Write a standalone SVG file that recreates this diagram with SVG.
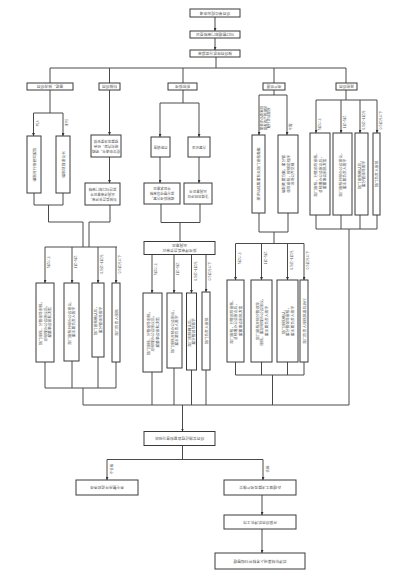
<svg xmlns="http://www.w3.org/2000/svg" width="408" height="579" viewBox="0 0 408 579">
<defs>
<style>
.b{fill:#fff;stroke:#3a3a3a;stroke-width:1}
.l{fill:none;stroke:#4a4a4a;stroke-width:1}
.a{fill:none;stroke:#4a4a4a;stroke-width:1;marker-end:url(#ah)}
.t{font-family:"Noto Sans CJK SC","Noto Sans",sans-serif;font-size:3.8px;fill:#555;text-anchor:middle;dominant-baseline:central}
.s{font-size:3.5px}
</style>
<marker id="ah" viewBox="0 0 6 6" refX="6" refY="3" markerWidth="3" markerHeight="3" orient="auto" markerUnits="userSpaceOnUse"><path d="M0,0 L6,3 L0,6 z" fill="#333"/></marker>
</defs>
<rect width="408" height="579" fill="#fff"/>
<g id="connectors">
<path class="a" d="M215,17 V31"/>
<path class="a" d="M215,38 V50"/>
<path class="l" d="M216,57 V68 M50,68 H346 M50,68 V83 M109.5,68 V83 M183,68 V83 M274,68 V83 M346,68 V83"/>
<path class="l" d="M50,90 V113 M33.5,113 H63"/>
<path class="a" d="M33.5,113 V136"/><path class="a" d="M63,113 V136"/>
<path class="l" d="M34,193 V205 M63,193 V205 M34,205 H63 M48.5,205 V222 H83 V247"/>
<path class="a" d="M109.5,90 V135"/>
<path class="a" d="M109.5,157 V183"/>
<path class="l" d="M110,205 V222 H89 V247"/>
<path class="l" d="M45,247 H117"/>
<path class="a" d="M45,247 V283"/><path class="a" d="M72,247 V283"/><path class="a" d="M98,247 V283"/><path class="a" d="M116,247 V283"/>
<path class="l" d="M45,362 V388 M72,361 V388 M98,357 V388 M116,362 V388 M45,388 H116 M83,388 V405 H349"/>
<path class="l" d="M183,90 V103 M160,103 H199"/>
<path class="a" d="M160,103 V137"/><path class="a" d="M199,103 V137"/>
<path class="a" d="M160,157 V183"/><path class="a" d="M199,157 V183"/>
<path class="l" d="M161,204 V222.5 M200,204 V222.5 M161,222.5 H200 M180,222.5 V241.5"/>
<path class="a" d="M152,254.5 V293"/><path class="a" d="M174,254.5 V293"/><path class="a" d="M191.5,254.5 V293"/><path class="a" d="M206,254.5 V292"/>
<path class="l" d="M152,372 V405 M174,368 V405 M191.5,370 V405 M206,370 V405"/>
<path class="l" d="M274,90 V95 M259,95 H287"/>
<path class="a" d="M259,95 V135"/><path class="a" d="M287,95 V135"/>
<path class="l" d="M259,213 V232 M288,213 V232 M259,232 H288 M274,232 V243.5 M235.5,243.5 H304"/>
<path class="a" d="M235.5,243.5 V280"/><path class="a" d="M261.5,243.5 V280"/><path class="a" d="M287.5,243.5 V280"/><path class="a" d="M304,243.5 V280"/>
<path class="l" d="M235.5,362 V375 M261.5,362 V375 M287.5,362 V375 M304,362 V375 M235.5,375 H304 M272.5,375 V405"/>
<path class="l" d="M346,90 V100 M316,100 H377"/>
<path class="a" d="M316,100 V133"/><path class="a" d="M341,100 V133"/><path class="a" d="M360,100 V133"/><path class="a" d="M377,100 V133"/>
<path class="l" d="M316,215 V229 M341,215 V229 M360,215 V229 M377,215 V229 M316,229 H377 M349,229 V405"/>
<path class="a" d="M182.5,405 V431.5"/>
<path class="l" d="M182.5,445.5 V459.5 M107,459.5 H263"/>
<path class="a" d="M107,459.5 V480"/><path class="a" d="M263,459.5 V480"/>
<path class="a" d="M262,495 V515"/>
<path class="a" d="M262,529 V553"/>
</g>

<g id="n1"><rect class="b" x="190" y="9" width="50" height="8"/><text class="t" x="215" y="13" transform="rotate(180 215 13)">项目单位提出申请</text></g>
<g id="n2"><rect class="b" x="190" y="31" width="50" height="7"/><text class="t" x="215" y="34.5" transform="rotate(180 215 34.5)">归口管理部门审核登记</text></g>
<g id="n3"><rect class="b" x="190" y="50" width="50" height="7"/><text class="t" x="215" y="53.5" transform="rotate(180 215 53.5)">按项目性质分类报审</text></g>

<g id="nA"><rect class="b" x="27" y="83" width="46" height="7"/><text class="t" x="50" y="86.5" transform="rotate(180 50 86.5)">基建、技改项目</text></g>
<g id="nB"><rect class="b" x="99" y="83" width="21" height="7"/><text class="t" x="109.5" y="86.5" transform="rotate(180 109.5 86.5)">科技项目</text></g>
<g id="nC"><rect class="b" x="168" y="83" width="29" height="7"/><text class="t" x="182.5" y="86.5" transform="rotate(180 182.5 86.5)">股权投资</text></g>
<g id="nD"><rect class="b" x="263" y="83" width="22" height="7"/><text class="t" x="274" y="86.5" transform="rotate(180 274 86.5)">资产处置</text></g>
<g id="nE"><rect class="b" x="336" y="83" width="21" height="7"/><text class="t" x="346.5" y="86.5" transform="rotate(180 346.5 86.5)">其他项目</text></g>

<g id="labelsA">
<text class="t s" x="37" y="123" transform="rotate(-90 37 123)">列入</text>
<text class="t s" x="66" y="123" transform="rotate(-90 66 123)">未列</text>
</g>
<g id="nA1"><rect class="b" x="27" y="136" width="14" height="57"/><text class="t" x="34" y="164.5" transform="rotate(-90 34 164.5)">编制可行性研究报告</text></g>
<g id="nA2"><rect class="b" x="56" y="136" width="14" height="57"/><text class="t" x="63" y="164.5" transform="rotate(-90 63 164.5)">编制项目建议书</text></g>

<g id="nB1"><rect class="b" x="91" y="135" width="30" height="22"/>
<text class="t s" x="106" y="141" transform="rotate(180 106 146)">提交申请书，明确</text>
<text class="t s" x="106" y="146" transform="rotate(180 106 146)">研究内容、经费</text>
<text class="t s" x="106" y="151" transform="rotate(180 106 146)">预算及进度安排</text></g>
<g id="nB2"><rect class="b" x="85" y="183" width="35" height="22"/>
<text class="t s" x="102.5" y="189" transform="rotate(180 102.5 194)">科技委员会评审，</text>
<text class="t s" x="102.5" y="194" transform="rotate(180 102.5 194)">出具评审意见并</text>
<text class="t s" x="102.5" y="199" transform="rotate(180 102.5 194)">报送归口部门审核</text></g>

<g id="nC1"><rect class="b" x="151" y="137" width="19" height="20"/><text class="t s" x="160.5" y="147" transform="rotate(180 160.5 147)">尽职调查</text></g>
<g id="nC2"><rect class="b" x="188" y="137" width="22" height="20"/><text class="t s" x="199" y="147" transform="rotate(180 199 147)">方案论证</text></g>
<g id="nC3"><rect class="b" x="144" y="183" width="36" height="21"/>
<text class="t s" x="162" y="188.5" transform="rotate(180 162 193.5)">编制投资方案，</text>
<text class="t s" x="162" y="193.5" transform="rotate(180 162 193.5)">报分管领导审核</text>
<text class="t s" x="162" y="198.5" transform="rotate(180 162 193.5)">并征求意见</text></g>
<g id="nC4"><rect class="b" x="184" y="183" width="28" height="21"/>
<text class="t s" x="198" y="191" transform="rotate(180 198 193.5)">法律风险评估</text>
<text class="t s" x="198" y="196" transform="rotate(180 198 193.5)">出具意见书</text></g>
<g id="nCR"><rect class="b" x="144" y="241.5" width="71" height="13"/>
<text class="t" x="179.5" y="245.8" transform="rotate(180 179.5 248)">投资评审委员会审议</text>
<text class="t" x="179.5" y="250.2" transform="rotate(180 179.5 248)">出具意见</text></g>

<g id="nD1"><rect class="b" x="252" y="135" width="13" height="78"/><text class="t" x="258.5" y="174" transform="rotate(-90 258.5 174)">按评估结果报有关部门审核备案</text></g>
<g id="nD2"><rect class="b" x="278" y="135" width="20" height="78"/>
<text class="t" x="283.5" y="174" transform="rotate(-90 283.5 174)">编制处置方案，报分管</text>
<text class="t" x="288" y="174" transform="rotate(-90 288 174)">领导审核，按规定程序</text>
<text class="t" x="292.5" y="174" transform="rotate(-90 292.5 174)">进场公开交易</text></g>
<g id="labelsD">
<text class="t s" x="261.5" y="118" transform="rotate(-90 261.5 118)">需要评估备案的</text>
<text class="t s" x="265" y="118" transform="rotate(-90 265 118)">国有资产按规定</text>
<text class="t s" x="268.5" y="118" transform="rotate(-90 268.5 118)">履行评估程序</text>
<text class="t s" x="290" y="127" transform="rotate(-90 290 127)">不需</text>
</g>

<g id="labelsAmt">
<text class="t s" x="48.5" y="262" transform="rotate(-90 48.5 262)">5亿以上</text>
<text class="t s" x="75.5" y="262" transform="rotate(-90 75.5 262)">1亿~5亿</text>
<text class="t s" x="101.5" y="264" transform="rotate(-90 101.5 264)">0.5亿~1亿元</text>
<text class="t s" x="119.5" y="264" transform="rotate(-90 119.5 264)">0.5亿元以下</text>
<text class="t s" x="155.5" y="269" transform="rotate(-90 155.5 269)">5亿以上</text>
<text class="t s" x="177.5" y="269" transform="rotate(-90 177.5 269)">1亿~5亿</text>
<text class="t s" x="195" y="271" transform="rotate(-90 195 271)">0.5亿~1亿元</text>
<text class="t s" x="209.5" y="271" transform="rotate(-90 209.5 271)">0.5亿元以下</text>
<text class="t s" x="239" y="258" transform="rotate(-90 239 258)">5亿以上</text>
<text class="t s" x="265" y="258" transform="rotate(-90 265 258)">1亿~5亿</text>
<text class="t s" x="291" y="260" transform="rotate(-90 291 260)">0.5亿~1亿元</text>
<text class="t s" x="307.5" y="260" transform="rotate(-90 307.5 260)">0.5亿元以下</text>
<text class="t s" x="319.5" y="124" transform="rotate(-90 319.5 124)">5亿以上</text>
<text class="t s" x="344.5" y="122" transform="rotate(-90 344.5 122)">1亿~5亿</text>
<text class="t s" x="363.5" y="120" transform="rotate(-90 363.5 120)">0.5亿~1亿元</text>
<text class="t s" x="380.5" y="120" transform="rotate(-90 380.5 120)">0.5亿元以下</text>
</g>

<g id="nL1"><rect class="b" x="36" y="283" width="18" height="79"/>
<text class="t" x="40.5" y="322.5" transform="rotate(-90 40.5 322.5)">部门审核，分管领导审核，</text>
<text class="t" x="45" y="322.5" transform="rotate(-90 45 322.5)">总经理办公会审议后，</text>
<text class="t" x="49.5" y="322.5" transform="rotate(-90 49.5 322.5)">报董事会审批决策</text></g>
<g id="nL2"><rect class="b" x="64" y="283" width="15" height="78"/>
<text class="t" x="69.3" y="322" transform="rotate(-90 69.3 322)">部门审核并经办公会审议，</text>
<text class="t" x="73.7" y="322" transform="rotate(-90 73.7 322)">报主要负责人签字</text></g>
<g id="nL3"><rect class="b" x="92" y="283" width="12" height="74"/>
<text class="t" x="95.8" y="320" transform="rotate(-90 95.8 320)">部门审核确认后，</text>
<text class="t" x="100.2" y="320" transform="rotate(-90 100.2 320)">报分管领导签字</text></g>
<g id="nL4"><rect class="b" x="112" y="283" width="8" height="79"/>
<text class="t" x="116" y="322.5" transform="rotate(-90 116 322.5)">部门负责人审批</text></g>

<g id="nC5"><rect class="b" x="143" y="293" width="19" height="79"/>
<text class="t" x="148" y="332.5" transform="rotate(-90 148 332.5)">部门审核，分管领导审核，</text>
<text class="t" x="152.5" y="332.5" transform="rotate(-90 152.5 332.5)">总经理办公会审议后，</text>
<text class="t" x="157" y="332.5" transform="rotate(-90 157 332.5)">报董事会审批决策</text></g>
<g id="nC6"><rect class="b" x="167" y="293" width="15" height="75"/>
<text class="t" x="172.3" y="330.5" transform="rotate(-90 172.3 330.5)">部门审核并经办公会审议，</text>
<text class="t" x="176.7" y="330.5" transform="rotate(-90 176.7 330.5)">报主要负责人签字</text></g>
<g id="nC7"><rect class="b" x="186.5" y="293" width="10" height="77"/>
<text class="t" x="189.5" y="331.5" transform="rotate(-90 189.5 331.5)">部门审核确认后，</text>
<text class="t" x="193.5" y="331.5" transform="rotate(-90 193.5 331.5)">报分管领导签字</text></g>
<g id="nC8"><rect class="b" x="202" y="292" width="8" height="78"/>
<text class="t" x="206" y="331" transform="rotate(-90 206 331)">部门负责人审批</text></g>

<g id="nD3"><rect class="b" x="227" y="280" width="17" height="82"/>
<text class="t" x="231" y="321" transform="rotate(-90 231 321)">部门审核，分管领导审核，</text>
<text class="t" x="235.5" y="321" transform="rotate(-90 235.5 321)">总经理办公会审议后，</text>
<text class="t" x="240" y="321" transform="rotate(-90 240 321)">报董事会审批决策</text></g>
<g id="nD4"><rect class="b" x="251" y="280" width="21" height="82"/>
<text class="t" x="257" y="321" transform="rotate(-90 257 321)">部门审核并经分管领导</text>
<text class="t" x="261.5" y="321" transform="rotate(-90 261.5 321)">审核，报总经理办公会审议，</text>
<text class="t" x="266" y="321" transform="rotate(-90 266 321)">报主要负责人签字</text></g>
<g id="nD5"><rect class="b" x="277" y="280" width="21" height="82"/>
<text class="t" x="283" y="321" transform="rotate(-90 283 321)">部门审核确认，</text>
<text class="t" x="287.5" y="321" transform="rotate(-90 287.5 321)">报分管领导审核，</text>
<text class="t" x="292" y="321" transform="rotate(-90 292 321)">报主要负责人签字</text></g>
<g id="nD6"><rect class="b" x="300" y="280" width="8" height="82"/>
<text class="t" x="304" y="321" transform="rotate(-90 304 321)">部门负责人审核批准后执行</text></g>

<g id="nE1"><rect class="b" x="310" y="133" width="20" height="82"/>
<text class="t" x="315.5" y="174" transform="rotate(-90 315.5 174)">部门审核，分管领导审核，</text>
<text class="t" x="320" y="174" transform="rotate(-90 320 174)">总经理办公会审议后，</text>
<text class="t" x="324.5" y="174" transform="rotate(-90 324.5 174)">报董事会审批决策</text></g>
<g id="nE2"><rect class="b" x="333" y="133" width="19" height="82"/>
<text class="t" x="340.3" y="174" transform="rotate(-90 340.3 174)">部门审核并经办公会审议，</text>
<text class="t" x="344.7" y="174" transform="rotate(-90 344.7 174)">报主要负责人签字</text></g>
<g id="nE3"><rect class="b" x="355" y="133" width="13" height="82"/>
<text class="t" x="359.3" y="174" transform="rotate(-90 359.3 174)">部门审核确认后，</text>
<text class="t" x="363.7" y="174" transform="rotate(-90 363.7 174)">报分管领导签字</text></g>
<g id="nE4"><rect class="b" x="373" y="133" width="7" height="82"/>
<text class="t" x="376.5" y="174" transform="rotate(-90 376.5 174)">部门负责人审批</text></g>

<g id="nP"><rect class="b" x="144" y="431.5" width="71" height="14"/><text class="t" x="179.5" y="438.5" transform="rotate(180 179.5 438.5)">项目实施过程监督检查与验收</text></g>
<g id="labelsP">
<text class="t s" x="111.5" y="469" transform="rotate(-90 111.5 469)">不合格</text>
<text class="t s" x="267" y="469" transform="rotate(-90 267 469)">合格</text>
</g>
<g id="nF"><rect class="b" x="76" y="480" width="62" height="15"/><text class="t" x="107" y="487.5" transform="rotate(180 107 487.5)">责令整改并追究责任</text></g>
<g id="nG"><rect class="b" x="224" y="480" width="72" height="15"/><text class="t" x="260" y="487.5" transform="rotate(180 260 487.5)">办理竣工决算及资产移交</text></g>
<g id="nH"><rect class="b" x="224" y="515" width="72" height="14"/><text class="t" x="260" y="522" transform="rotate(180 260 522)">开展项目后评价工作</text></g>
<g id="nI"><rect class="b" x="215" y="553" width="90" height="16"/><text class="t" x="260" y="561" transform="rotate(180 260 561)">后评价结果纳入考核并归档管理</text></g>
</svg>
